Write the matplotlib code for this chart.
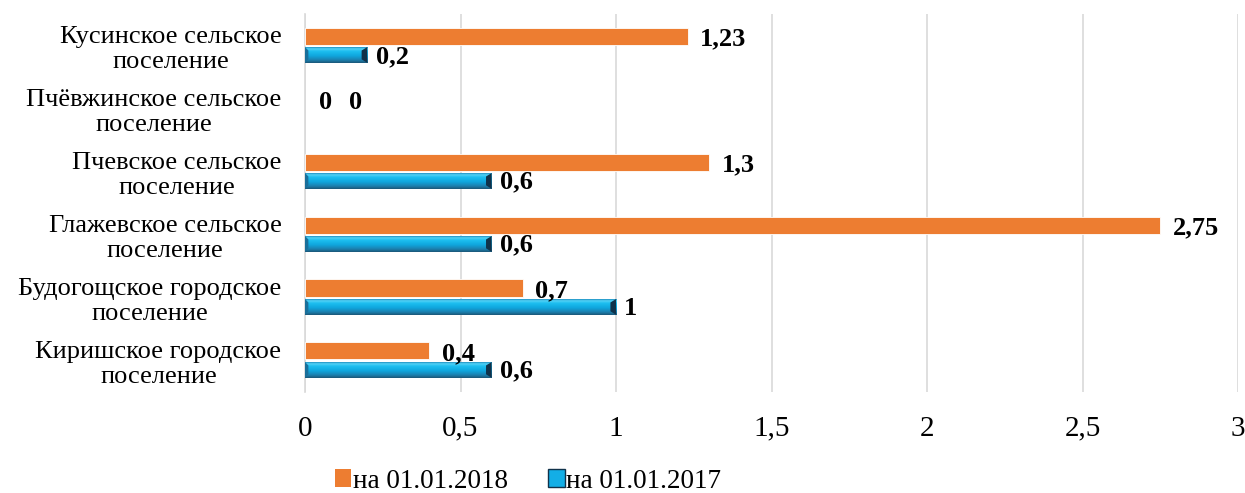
import matplotlib
matplotlib.use("Agg")
import matplotlib.pyplot as plt
import numpy as np
from matplotlib.colors import LinearSegmentedColormap
from matplotlib.patches import Patch, Polygon

plt.rcParams['font.family'] = ['Liberation Serif', 'DejaVu Serif']

categories = [
    "Киришское городское\nпоселение",
    "Будогощское городское\nпоселение",
    "Глажевское сельское\nпоселение",
    "Пчевское сельское\nпоселение",
    "Пчёвжинское сельское\nпоселение",
    "Кусинское сельское\nпоселение",
]
values_2018 = [0.4, 0.7, 2.75, 1.3, 0, 1.23]
values_2017 = [0.6, 1, 0.6, 0.6, 0, 0.2]
labels_2018 = ["0,4", "0,7", "2,75", "1,3", "0", "1,23"]
labels_2017 = ["0,6", "1", "0,6", "0,6", "0", "0,2"]
xticks = [0, 0.5, 1, 1.5, 2, 2.5, 3]
xticklabels = ["0", "0,5", "1", "1,5", "2", "2,5", "3"]
legend_labels = ["на 01.01.2018", "на 01.01.2017"]

orange = "#ED7D31"
blue = "#13AEE6"

fig = plt.figure(figsize=(12.45, 4.93), dpi=100)
ax = fig.add_axes([0.245, 0.205, 0.7494, 0.7666])

y = np.arange(len(categories))
off = 0.15
h_o = 0.27
h_b = 0.25

lw_o = [0.6 if v > 0 else 0 for v in values_2018]
ax.barh(y + off, values_2018, height=h_o, color=orange, edgecolor="white",
        linewidth=lw_o, zorder=3)

grad_cmap = LinearSegmentedColormap.from_list(
    "bev", [(0.0, "#1b5778"), (0.18, "#1c7fae"), (0.45, "#0fa6de"),
            (0.75, "#1dbff0"), (0.9, "#55d2f6"), (1.0, "#1e8fc0")])
grad = np.linspace(0, 1, 64).reshape(-1, 1)
for yi, v in zip(y, values_2017):
    if v <= 0:
        continue
    yc = yi - off
    y0, y1 = yc - h_b / 2, yc + h_b / 2
    ax.imshow(grad, extent=[0, v, y0, y1], origin="lower", cmap=grad_cmap,
              aspect="auto", zorder=3, interpolation="bilinear")
    bw = 0.018
    bh = h_b * 0.22
    ax.add_patch(Polygon([[v - bw, y0 + bh], [v, y0], [v, y1], [v - bw, y1 - bh]],
                         closed=True, color="#10324a", zorder=4, lw=0))
    ax.add_patch(Polygon([[0, y0], [bw * 0.6, y0 + bh], [bw * 0.6, y1 - bh], [0, y1]],
                         closed=True, color="#1a6f9a", zorder=4, lw=0))

# data labels
fs_lab = 19
for yi, v, lab in zip(y, values_2018, labels_2018):
    if v == 0:
        ax.annotate(lab, (0, yi), xytext=(10, 4), textcoords="offset points",
                    ha="left", va="center", fontsize=fs_lab, fontweight="bold", zorder=5)
    else:
        ax.annotate(lab, (v, yi + off), xytext=(9, -2), textcoords="offset points",
                    ha="left", va="center", fontsize=fs_lab, fontweight="bold", zorder=5)
for yi, v, lab in zip(y, values_2017, labels_2017):
    if v == 0:
        ax.annotate(lab, (0, yi), xytext=(32, 4), textcoords="offset points",
                    ha="left", va="center", fontsize=fs_lab, fontweight="bold", zorder=5)
    else:
        ax.annotate(lab, (v, yi - off), xytext=(6, -1), textcoords="offset points",
                    ha="left", va="center", fontsize=fs_lab, fontweight="bold", zorder=5)

ax.set_xlim(0, 3)
ax.set_ylim(-0.5, len(categories) - 0.5)
ax.set_xticks(xticks)
ax.set_xticklabels(xticklabels, fontsize=21)
ax.set_yticks(y)
ax.set_yticklabels(categories, fontsize=19)
for t in ax.get_yticklabels():
    t.set_multialignment("center")
    t.set_linespacing(1.2)
ax.tick_params(axis="both", length=0)
ax.tick_params(axis="x", pad=17)
ax.tick_params(axis="y", pad=17)

ax.grid(axis="x", color="#d9d9d9", linewidth=1.2, zorder=0)
ax.set_axisbelow(True)
for s in ["top", "right", "bottom"]:
    ax.spines[s].set_visible(False)
ax.spines["left"].set_color("#d9d9d9")
ax.spines["left"].set_linewidth(1.2)

handles = [Patch(facecolor=orange, edgecolor="none"),
           Patch(facecolor=blue, edgecolor="#10324a", linewidth=1.0)]
fig.legend(handles, legend_labels, loc="center", bbox_to_anchor=(528 / 1245, 1 - 481 / 493),
           ncol=2, frameon=False, fontsize=19.5, handlelength=0.6, handleheight=0.6,
           handletextpad=0.05, columnspacing=1.5, borderaxespad=0)

fig.savefig("out.png", dpi=100)
